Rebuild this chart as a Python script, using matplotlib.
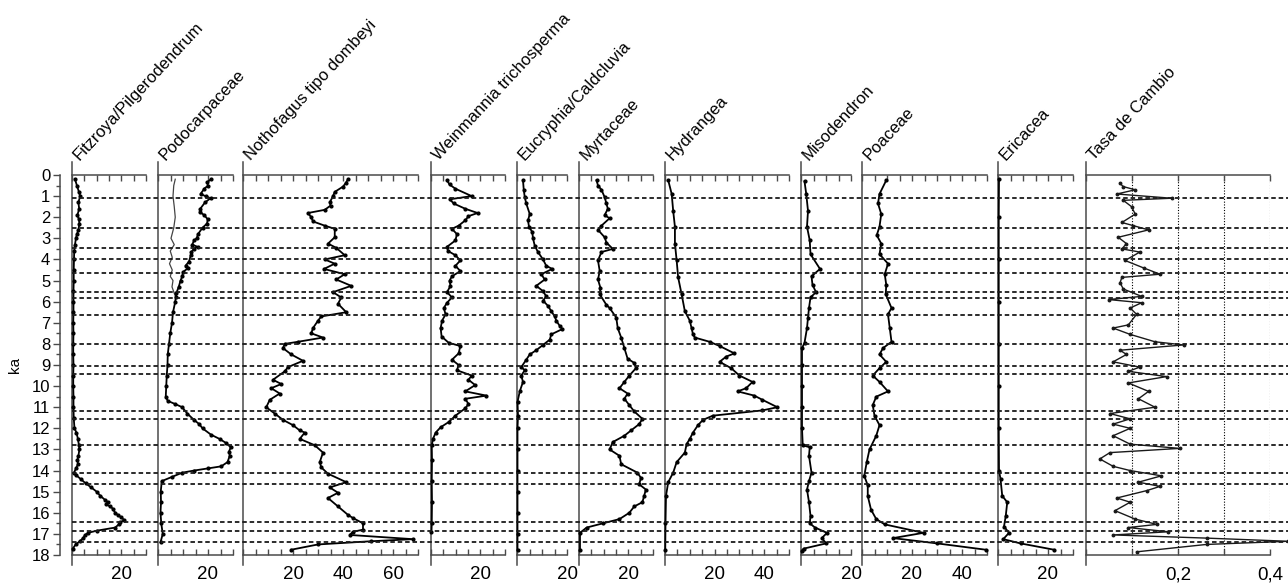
import matplotlib.pyplot as plt
from matplotlib.lines import Line2D
from matplotlib.ticker import MultipleLocator, FuncFormatter

plt.rcParams['font.family'] = ['Liberation Sans', 'DejaVu Sans']

# ---- pollen percentages against age (ka) ----
fitz_ka = [0.2, 0.5, 0.8, 1.0, 1.3, 1.6, 1.9, 2.1, 2.3, 2.6, 2.8, 3.0, 3.3, 3.6, 4.0, 4.5,
           5.0, 5.5, 6.0, 6.5, 7.0, 7.5, 8.0, 8.5, 9.0, 9.5, 10.0, 10.5, 11.0, 11.5, 12.0,
           12.2, 12.5, 12.8, 13.0, 13.3, 13.5, 13.7, 13.9, 14.1, 14.2, 14.4, 14.6, 14.8,
           15.0, 15.2, 15.4, 15.5, 15.6, 15.7, 15.8, 16.0, 16.1, 16.2, 16.35, 16.45, 16.55,
           16.7, 16.85, 16.95, 17.05, 17.2, 17.35, 17.5, 17.7]
fitz_pct = [1.2, 2.0, 2.8, 3.3, 2.6, 2.9, 2.2, 2.8, 3.0, 2.6, 2.0, 1.6, 1.2, 0.9, 0.8, 0.7,
            0.7, 0.6, 0.6, 0.6, 0.5, 0.6, 0.5, 0.5, 0.6, 0.5, 0.5, 0.6, 0.6, 0.7, 1.0,
            1.8, 2.4, 2.8, 3.0, 2.6, 2.2, 2.4, 1.6, 0.8, 1.5, 3.5, 5.5, 7.8,
            10.0, 11.5, 13.5, 14.5, 13.8, 15.5, 16.5, 17.5, 18.5, 19.8, 21.2, 19.5, 19.0,
            17.5, 10.0, 6.5, 5.3, 4.5, 3.2, 1.5, 0.3]

podo_ka = [0.2, 0.35, 0.5, 0.65, 0.9, 1.0, 1.1, 1.3, 1.6, 1.75, 1.9, 2.1, 2.3, 2.5, 2.8,
           3.0, 3.1, 3.3, 3.4, 3.5, 3.65, 3.8, 4.1, 4.3, 4.4, 4.6, 4.8, 5.0, 5.3, 5.6, 5.8,
           6.0, 6.5, 7.0, 7.5, 8.0, 8.5, 9.0, 9.5, 10.0, 10.5, 10.7, 10.85, 11.0, 11.3,
           11.6, 11.8, 12.0, 12.3, 12.5, 12.7, 12.9, 13.1, 13.3, 13.6, 13.8, 13.9, 14.0,
           14.1, 14.3, 14.5, 15.0, 15.5, 16.0, 16.5, 17.0, 17.4]
podo_pct = [21.2, 19.6, 20.0, 18.5, 17.0, 19.0, 21.0, 18.8, 16.9, 16.7, 18.5, 19.9, 19.6,
            17.8, 16.0, 15.5, 14.4, 13.7, 15.8, 14.4, 13.3, 13.1, 12.4, 11.0, 12.1, 10.0,
            9.7, 9.0, 8.3, 7.3, 7.1, 6.9, 6.0, 5.6, 4.9, 4.4, 3.9, 3.8, 3.5, 3.3, 3.1, 3.9,
            6.9, 9.7, 11.7, 14.4, 16.5, 17.8, 21.2, 24.6, 27.3, 29.1, 28.4, 28.7, 27.8,
            25.3, 19.9, 14.4, 9.7, 5.6, 1.5, 1.1, 1.2, 1.0, 1.3, 1.9, 1.0]

# second Podocarpaceae curve (thin line, upper section only)
podo2_ka = [0.2, 0.5, 1.0, 1.5, 2.0, 2.5, 3.0, 3.3, 3.6, 3.9, 4.2, 4.5, 4.8, 5.0, 5.3,
            5.6, 5.8]
podo2_pct = [6.9, 6.3, 6.0, 6.5, 6.9, 6.3, 5.2, 6.5, 4.9, 5.7, 4.6, 5.7, 4.9, 6.0, 5.6,
             6.5, 7.1]

noth_ka = [0.2, 0.4, 0.55, 0.8, 1.0, 1.3, 1.45, 1.65, 1.8, 2.0, 2.2, 2.4, 2.55, 2.95,
           3.25, 3.45, 3.8, 4.0, 4.2, 4.45, 4.7, 4.95, 5.25, 5.55, 5.8, 6.1, 6.5, 6.7,
           6.9, 7.25, 7.5, 7.7, 7.9, 8.0, 8.2, 8.5, 8.8, 9.1, 9.3, 9.7, 9.9, 10.1, 10.35,
           10.65, 11.0, 11.3, 11.6, 11.85, 12.1, 12.2, 12.5, 12.8, 13.15, 13.6, 13.85,
           14.15, 14.55, 14.8, 15.05, 15.3, 15.7, 16.1, 16.25, 16.5, 16.8, 16.9, 17.05,
           17.25, 17.35, 17.5, 17.75]
noth_pct = [42.0, 41.0, 40.0, 36.7, 36.0, 34.7, 35.0, 32.7, 26.0, 27.3, 28.0, 32.7, 36.7,
            36.7, 34.0, 37.3, 40.7, 32.7, 36.7, 32.4, 40.7, 37.3, 43.3, 36.0, 39.3, 38.0,
            41.3, 31.3, 30.0, 28.0, 27.3, 32.0, 22.0, 16.7, 16.0, 19.3, 24.0, 18.0, 16.7,
            12.0, 15.3, 11.3, 14.7, 10.7, 9.3, 12.7, 16.0, 20.0, 22.7, 24.7, 22.7, 28.7,
            32.0, 30.7, 31.3, 34.0, 41.3, 34.7, 38.0, 34.0, 38.0, 42.0, 44.0, 48.0, 48.0,
            44.0, 42.7, 68.0, 51.0, 30.0, 19.3]

wein_ka = [0.25, 0.45, 0.65, 1.0, 1.15, 1.35, 1.6, 1.8, 1.95, 2.15, 2.4, 2.55, 2.8, 3.1,
           3.4, 3.6, 3.8, 4.05, 4.3, 4.55, 4.8, 5.0, 5.25, 5.55, 5.8, 6.05, 6.3, 6.6, 6.9,
           7.25, 7.65, 7.95, 8.1, 8.45, 8.75, 9.0, 9.25, 9.5, 9.7, 9.95, 10.25, 10.45,
           10.6, 10.85, 11.05, 11.4, 11.7, 11.95, 12.2, 12.5, 12.8, 13.5, 14.5, 15.5,
           16.5, 16.9]
wein_pct = [6.5, 7.5, 9.9, 16.5, 7.6, 9.2, 13.9, 18.9, 15.2, 13.9, 11.2, 8.5, 10.5, 9.9,
            6.5, 6.9, 9.9, 11.9, 9.9, 11.9, 8.5, 7.5, 7.9, 6.5, 8.5, 6.5, 5.2, 5.9, 4.5,
            3.9, 4.3, 7.2, 11.9, 11.2, 8.5, 11.2, 10.5, 16.5, 15.2, 17.9, 13.9, 22.5,
            13.9, 15.2, 13.9, 9.9, 7.2, 3.9, 1.9, 0.8, 0.3, 0.4, 0.3, 0.4, 0.3, 0.2]

eucr_ka = [0.25, 0.7, 1.05, 1.35, 1.85, 2.15, 2.45, 2.7, 3.0, 3.35, 3.65, 4.0, 4.3, 4.45,
           4.7, 4.95, 5.25, 5.5, 5.75, 5.95, 6.2, 6.45, 6.7, 6.9, 7.15, 7.3, 7.55, 7.8,
           8.05, 8.3, 8.5, 8.75, 9.1, 9.25, 9.5, 9.8, 10.25, 10.75, 11.4, 12.0, 13.0,
           14.0, 15.0, 16.0, 17.0, 17.75]
eucr_pct = [2.4, 2.7, 3.1, 3.7, 5.1, 4.4, 4.8, 6.1, 6.4, 7.1, 8.4, 10.4, 11.7, 14.1, 9.7,
            11.1, 7.7, 10.4, 11.7, 10.4, 12.4, 13.7, 15.1, 15.7, 17.1, 18.1, 13.7, 13.1,
            10.4, 7.7, 5.1, 3.7, 1.7, 3.1, 1.7, 2.4, 1.1, 0.2, 0.4, 0.2, 0.2, 0.2, 0.2,
            0.2, 0.2, 0.2]

myrt_ka = [0.25, 0.5, 0.7, 1.05, 1.35, 1.6, 1.9, 2.05, 2.4, 2.6, 2.95, 3.2, 3.5, 3.65,
           4.05, 4.55, 4.95, 5.35, 5.65, 6.15, 6.3, 6.75, 7.25, 7.7, 8.2, 8.7, 8.9, 9.15,
           9.5, 9.8, 10.1, 10.35, 10.6, 10.9, 11.2, 11.55, 11.8, 12.1, 12.35, 12.65, 13.0,
           13.3, 13.7, 14.1, 14.35, 14.65, 14.9, 15.2, 15.5, 15.7, 16.0, 16.3, 16.5, 16.7,
           16.95, 17.75]
myrt_pct = [7.1, 7.7, 9.1, 10.4, 11.1, 11.7, 10.4, 12.4, 9.1, 7.7, 10.4, 11.1, 13.7, 9.1,
            7.7, 8.4, 7.7, 8.7, 8.4, 11.1, 12.4, 15.1, 15.7, 17.1, 18.4, 19.7, 22.4, 23.1,
            20.4, 18.4, 16.4, 19.7, 18.4, 20.4, 22.4, 25.7, 24.4, 21.1, 18.4, 13.7, 12.4,
            16.4, 17.1, 23.7, 25.1, 24.4, 27.1, 26.4, 25.7, 22.4, 20.4, 16.4, 9.7, 3.1,
            0.4, 0.4]

hydr_ka = [0.25, 0.9, 1.7, 2.45, 3.25, 4.05, 4.85, 5.65, 6.45, 6.9, 7.25, 7.55, 7.7, 7.9,
           8.1, 8.45, 8.6, 8.85, 9.15, 9.5, 9.8, 10.1, 10.25, 10.45, 10.65, 11.0, 11.15,
           11.4, 11.6, 11.85, 12.2, 12.5, 12.75, 13.15, 13.6, 14.1, 14.55, 15.2, 16.5,
           17.75]
hydr_pct = [1.3, 2.7, 3.3, 4.0, 4.0, 4.7, 5.3, 6.7, 8.0, 10.0, 10.7, 11.3, 12.0, 18.0,
            22.0, 28.0, 24.7, 22.0, 26.7, 30.0, 35.3, 32.7, 29.3, 36.0, 39.3, 45.3, 39.3,
            19.3, 15.3, 13.3, 11.3, 10.0, 8.7, 8.0, 4.7, 3.3, 1.3, 0.4, 0.2, 0.1]

miso_ka = [0.3, 0.9, 1.7, 2.45, 3.1, 3.75, 4.45, 4.8, 5.2, 5.55, 5.8, 6.3, 6.75, 7.25,
           7.95, 8.2, 9.0, 10.0, 11.0, 12.0, 12.8, 12.9, 13.3, 14.1, 14.5, 14.9, 15.5,
           16.15, 16.5, 16.7, 16.95, 17.2, 17.45, 17.7, 17.8]
miso_pct = [1.4, 2.1, 2.8, 2.4, 3.5, 3.8, 7.6, 4.2, 4.6, 6.0, 3.8, 3.2, 2.8, 2.4, 1.4,
            0.4, 0.4, 0.4, 0.4, 0.4, 0.7, 3.5, 3.2, 4.2, 3.2, 2.4, 3.2, 3.8, 3.5, 5.6,
            10.4, 8.3, 10.1, 1.0, 0.4]

poac_ka = [0.25, 0.9, 1.35, 1.85, 2.45, 2.85, 3.25, 3.75, 4.2, 4.7, 5.2, 5.65, 6.3, 6.6,
           7.25, 7.9, 8.2, 8.5, 8.85, 9.15, 9.5, 9.8, 10.25, 10.5, 10.9, 11.4, 11.85,
           12.35, 13.0, 13.6, 14.25, 14.7, 15.2, 15.85, 16.3, 16.55, 16.95, 17.2, 17.45,
           17.75]
poac_pct = [9.7, 7.0, 6.4, 7.7, 7.0, 5.9, 7.7, 7.0, 10.4, 9.1, 9.7, 9.5, 11.8, 10.4,
            11.1, 11.8, 8.4, 7.0, 9.7, 7.0, 4.3, 7.0, 10.4, 5.7, 4.3, 5.0, 7.0, 5.7, 3.0,
            1.9, 0.9, 2.3, 2.3, 3.6, 5.7, 9.1, 24.6, 12.4, 30.0, 49.5]

eric_ka = [0.2, 2.0, 4.0, 6.0, 8.0, 10.0, 12.0, 14.0, 14.4, 15.2, 15.5, 16.15, 16.65,
           16.95, 17.25, 17.45, 17.75]
eric_pct = [0.4, 0.3, 0.3, 0.3, 0.3, 0.3, 0.3, 0.4, 1.0, 1.7, 3.7, 3.1, 2.4, 4.4, 2.1,
            9.0, 22.4]

# rate of change
tasa_ka = [0.4, 0.55, 0.7, 0.9, 1.1, 1.2, 1.5, 1.85, 2.25, 2.4, 2.6, 2.95, 3.25, 3.5,
           3.65, 4.05, 4.4, 4.7, 4.85, 5.1, 5.4, 5.75, 5.9, 6.05, 6.3, 6.6, 7.1, 7.25,
           7.55, 7.9, 8.05, 8.3, 8.5, 8.85, 9.1, 9.3, 9.55, 9.85, 10.25, 10.6, 11.0,
           11.3, 11.55, 11.8, 12.0, 12.35, 12.75, 12.95, 13.15, 13.45, 13.8, 14.0, 14.25,
           14.55, 14.75, 14.95, 15.3, 15.5, 15.9, 16.3, 16.55, 16.7, 16.9, 17.05, 17.2,
           17.35, 17.5, 17.85]
tasa_val = [0.074, 0.081, 0.107, 0.067, 0.186, 0.081, 0.099, 0.107, 0.078, 0.103, 0.136,
            0.070, 0.088, 0.078, 0.117, 0.085, 0.125, 0.161, 0.078, 0.074, 0.081, 0.121,
            0.049, 0.121, 0.096, 0.110, 0.092, 0.059, 0.096, 0.150, 0.212, 0.074, 0.088,
            0.059, 0.117, 0.092, 0.175, 0.092, 0.136, 0.114, 0.150, 0.052, 0.096, 0.059,
            0.096, 0.059, 0.096, 0.204, 0.052, 0.030, 0.059, 0.096, 0.164, 0.114, 0.161,
            0.132, 0.067, 0.096, 0.063, 0.107, 0.154, 0.092, 0.179, 0.059, 0.262, 0.440,
            0.262, 0.110]

# zone boundaries drawn across the whole diagram
zone_ka = [1.07, 2.52, 3.46, 3.98, 4.62, 5.53, 5.85, 6.64, 8.01, 9.03, 9.41, 11.2,
           11.58, 12.79, 14.13, 14.65, 16.45, 16.88, 17.39]

W, H = 1288, 588
TOP, BOT = 175, 555
AXIS_COL = '#4a4a4a'

fig = plt.figure(figsize=(W / 100, H / 100), dpi=100)


def px_axes(x0, x1):
    return fig.add_axes([x0 / W, 1 - BOT / H, (x1 - x0) / W, (BOT - TOP) / H])


def pct_fmt(v, pos):
    return f"{v:.0f}" if v > 0 and round(v) % 20 == 0 else ""


def tasa_fmt(v, pos):
    return f"{v:.1f}".replace('.', ',') if round(v * 10) in (2, 4) else ""


def frame(ax, x0, title):
    for side in ('left', 'right'):
        ax.spines[side].set_visible(False)
    for side in ('top', 'bottom'):
        ax.spines[side].set_color(AXIS_COL)
        ax.spines[side].set_linewidth(1.1)
    # left spine runs a little past the top and bottom axes
    ax.add_line(Line2D([0, 0], [-0.027, 1.033], transform=ax.transAxes,
                       color=AXIS_COL, lw=1.1, clip_on=False))
    ax.set_yticks([])
    ax.tick_params(axis='x', which='both', direction='in', top=True, bottom=True,
                   labeltop=False, length=4, width=1, color=AXIS_COL,
                   labelsize=13.5, pad=8)
    ax.patch.set_alpha(0)
    fig.text((x0 + 10) / W, 1 - (TOP - 12) / H, title, rotation=47,
             rotation_mode='anchor', ha='left', va='bottom', fontsize=12)


panels = [
    ("Fitzroya/Pilgerodendrum", 72, 146, 30, fitz_ka, fitz_pct),
    ("Podocarpaceae", 158, 233, 30, podo_ka, podo_pct),
    ("Nothofagus tipo dombeyi", 243, 418, 70, noth_ka, noth_pct),
    ("Weinmannia trichosperma", 431, 505, 30, wein_ka, wein_pct),
    ("Eucryphia/Caldcluvia", 517, 567, 20, eucr_ka, eucr_pct),
    ("Myrtaceae", 579, 653, 30, myrt_ka, myrt_pct),
    ("Hydrangea", 665, 789, 50, hydr_ka, hydr_pct),
    ("Misodendron", 801, 851, 20, miso_ka, miso_pct),
    ("Poaceae", 862, 987, 50, poac_ka, poac_pct),
    ("Ericacea", 998, 1073, 30, eric_ka, eric_pct),
]

for title, x0, x1, xmax, ka, vals in panels:
    ax = px_axes(x0, x1)
    ax.plot(vals, ka, color='black', lw=1.3, marker='o', ms=2, clip_on=False, zorder=3)
    if title == "Podocarpaceae":
        ax.plot(podo2_pct, podo2_ka, color='#444444', lw=0.9, zorder=2)
    ax.set_xlim(0, xmax)
    ax.set_ylim(18, 0)
    ax.xaxis.set_major_locator(MultipleLocator(5))
    ax.xaxis.set_major_formatter(FuncFormatter(pct_fmt))
    frame(ax, x0, title)

# rate-of-change panel
ax_t = px_axes(1086, 1270)
ax_t.plot(tasa_val, tasa_ka, color='#1a1a1a', lw=1.0, marker='o', ms=1.8,
          clip_on=False, zorder=3)
ax_t.set_xlim(0, 0.4)
ax_t.set_ylim(18, 0)
ax_t.xaxis.set_major_locator(MultipleLocator(0.1))
ax_t.xaxis.set_major_formatter(FuncFormatter(tasa_fmt))
for g in (0.1, 0.2, 0.3, 0.4):
    ax_t.axvline(g, color='black', lw=0.8, ls=(0, (1, 1.5)), zorder=1)
frame(ax_t, 1086, "Tasa de Cambio")

# age axis
ax_y = px_axes(60, 61)
for side in ('top', 'right', 'bottom'):
    ax_y.spines[side].set_visible(False)
ax_y.spines['left'].set_color(AXIS_COL)
ax_y.spines['left'].set_linewidth(1.1)
ax_y.set_ylim(18, 0)
ax_y.set_xticks([])
ax_y.yaxis.set_major_locator(MultipleLocator(1))
ax_y.yaxis.set_minor_locator(MultipleLocator(0.5))
ax_y.tick_params(axis='y', which='major', direction='out', length=5, width=1,
                 color=AXIS_COL, labelsize=12, pad=2)
ax_y.tick_params(axis='y', which='minor', direction='out', length=3, width=1,
                 color=AXIS_COL)
ax_y.patch.set_alpha(0)
fig.text(15 / W, 1 - 365 / H, "ka", rotation=90, ha='center', va='center', fontsize=11)

# dashed zone lines over all panels
ax_z = px_axes(72, W)
ax_z.set_xlim(0, 1)
ax_z.set_ylim(18, 0)
ax_z.axis('off')
for k in zone_ka:
    ax_z.axhline(k, color='#1a1a1a', lw=1.3, ls=(0, (2.5, 1.6)))

fig.savefig("out.png", dpi=100)
